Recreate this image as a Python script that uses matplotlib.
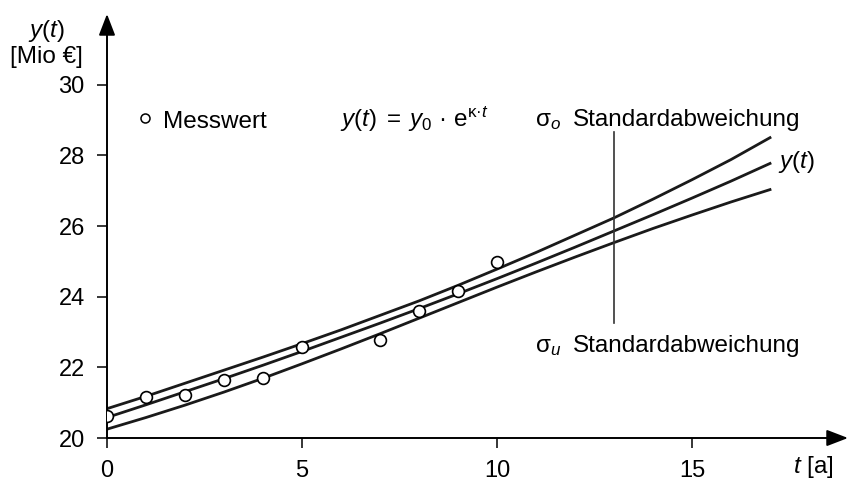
import numpy as np
import matplotlib
matplotlib.use('Agg')
import matplotlib.pyplot as plt

plt.rcParams['font.family'] = ['Liberation Sans', 'DejaVu Sans']
plt.rcParams['mathtext.fontset'] = 'custom'
plt.rcParams['mathtext.rm'] = 'Liberation Sans'
plt.rcParams['mathtext.it'] = 'Liberation Sans:italic'

t_mess = [0, 1, 2, 3, 4, 5, 7, 8, 9, 10]
y_mess = [20.62, 21.15, 21.21, 21.65, 21.71, 22.57, 22.77, 23.60, 24.15, 24.97]

# Kurven y(t), sigma_o, sigma_u
t_kurve = list(range(0, 18))
y_mitte = [20.58, 20.94, 21.31, 21.68, 22.06, 22.45, 22.85, 23.25, 23.66, 24.08,
           24.51, 24.95, 25.40, 25.86, 26.32, 26.79, 27.27, 27.77]
y_oben = [20.83, 21.18, 21.55, 21.92, 22.29, 22.67, 23.06, 23.47, 23.88, 24.32,
          24.78, 25.25, 25.74, 26.23, 26.76, 27.31, 27.88, 28.50]
y_unten = [20.25, 20.58, 20.93, 21.30, 21.69, 22.10, 22.52, 22.95, 23.39, 23.83,
           24.27, 24.70, 25.12, 25.53, 25.93, 26.31, 26.68, 27.03]

x_ticks = [0, 5, 10, 15]
y_ticks = [20, 22, 24, 26, 28, 30]

fig = plt.figure(figsize=(8.47, 4.82), dpi=100)
ax = fig.add_axes([107 / 847, 44 / 482, 741 / 847, 424 / 482])
ax.set_xlim(0, 19)
ax.set_ylim(20, 32)

for s in ax.spines.values():
    s.set_visible(False)

# Achsen mit Pfeilen
pfeil = dict(arrowstyle='-|>,head_length=1.3,head_width=0.5', mutation_scale=10,
             lw=1.4, color='black', shrinkA=0, shrinkB=0)
ax.annotate('', xy=(0, 1), xytext=(0, 0), xycoords='axes fraction', arrowprops=pfeil)
ax.annotate('', xy=(1, 0), xytext=(0, 0), xycoords='axes fraction', arrowprops=pfeil)

ax.set_xticks(x_ticks)
ax.set_yticks(y_ticks)
ax.tick_params(direction='out', length=7, width=1.1, labelsize=17, pad=9)

# Kurven
ax.plot(t_kurve, y_oben, color='#1a1a1a', lw=2.0)
ax.plot(t_kurve, y_mitte, color='#1a1a1a', lw=2.0)
ax.plot(t_kurve, y_unten, color='#1a1a1a', lw=2.0)
ax.plot(t_mess, y_mess, 'o', ms=8.5, mfc='white', mec='black', mew=1.2, zorder=5)

# senkrechte Linie bei t = 13
ax.plot([13, 13], [23.25, 28.65], color='#333333', lw=1.2)

fs = 17.5
ax.plot([0.97], [29.05], 'o', ms=6.5, mfc='white', mec='black', mew=1.1)
ax.text(1.44, 28.77, 'Messwert', fontsize=fs, va='baseline')
ax.text(5.97, 28.8, r'$y(t)\;=\;y_0\ \mathrm{·}\ \mathrm{e}^{\mathrm{κ·}t}$', fontsize=fs, va='baseline')
ax.text(10.97, 28.83, r'$\mathrm{σ}_o$', fontsize=fs, va='baseline')
ax.text(11.95, 28.83, 'Standardabweichung', fontsize=fs, va='baseline')
ax.text(17.2, 27.64, r'$y(t)$', fontsize=fs, va='baseline')
ax.text(10.97, 22.43, r'$\mathrm{σ}_u$', fontsize=fs, va='baseline')
ax.text(11.95, 22.43, 'Standardabweichung', fontsize=fs, va='baseline')
ax.text(17.6, 19.0, r'$t$ [a]', fontsize=fs, va='baseline', clip_on=False)
ax.text(-1.56, 31.34, r'$y(t)$', fontsize=fs, va='baseline', ha='center', clip_on=False)
ax.text(-1.56, 30.6, '[Mio €]', fontsize=fs, va='baseline', ha='center', clip_on=False)

fig.savefig('out.png', dpi=100)
